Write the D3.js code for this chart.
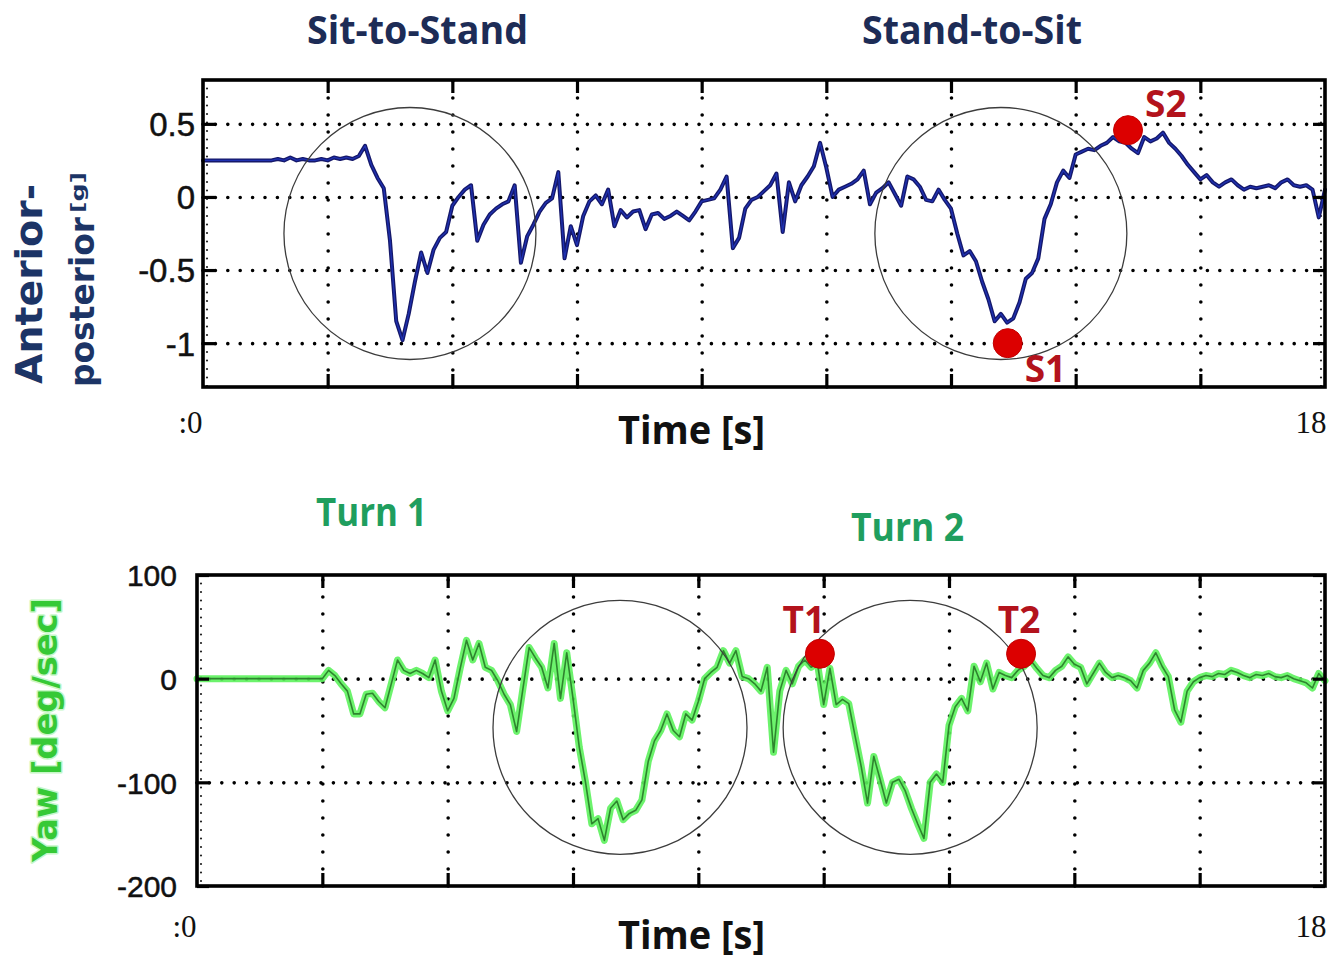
<!DOCTYPE html>
<html><head><meta charset="utf-8">
<script src="https://cdn.jsdelivr.net/npm/d3@7"></script>
<style>body{margin:0;background:#fff} svg{display:block}</style>
</head><body>
<svg id="c" width="1342" height="960"></svg>
<script>
// ---------- DATA ----------
const timeStep = 0.1; // seconds between samples
const apValues = [
  0.25,0.25,0.25,0.25,0.25,0.25,0.25,0.25,0.25,0.25,
  0.25,0.25,0.26,0.25,0.27,0.25,0.26,0.25,0.25,0.26,
  0.25,0.27,0.26,0.27,0.26,0.28,0.35,0.22,0.13,0.06,
  -0.30,-0.85,-0.98,-0.80,-0.58,-0.38,-0.52,-0.36,-0.28,-0.24,
  -0.06,0.00,0.05,0.08,-0.30,-0.19,-0.12,-0.08,-0.05,-0.03,
  0.08,-0.45,-0.27,-0.19,-0.10,-0.04,-0.01,0.17,-0.42,-0.20,
  -0.33,-0.13,-0.03,0.01,-0.05,0.05,-0.20,-0.09,-0.14,-0.10,
  -0.09,-0.22,-0.12,-0.11,-0.15,-0.13,-0.10,-0.13,-0.16,-0.10,
  -0.03,-0.02,-0.01,0.05,0.14,-0.35,-0.28,-0.08,-0.02,0.00,
  0.04,0.08,0.16,-0.24,0.10,-0.03,0.08,0.14,0.21,0.37,
  0.20,0.00,0.05,0.07,0.09,0.12,0.18,-0.05,0.03,0.06,
  0.10,0.02,-0.06,0.14,0.12,0.07,-0.02,-0.03,0.05,-0.02,
  -0.08,-0.25,-0.40,-0.37,-0.44,-0.58,-0.70,-0.85,-0.80,-0.86,
  -0.83,-0.72,-0.56,-0.52,-0.42,-0.15,-0.05,0.10,0.18,0.13,
  0.29,0.31,0.33,0.32,0.35,0.37,0.41,0.38,0.37,0.33,
  0.30,0.41,0.38,0.40,0.44,0.37,0.33,0.28,0.22,0.17,
  0.12,0.15,0.10,0.07,0.10,0.12,0.08,0.05,0.07,0.06,
  0.07,0.08,0.06,0.10,0.12,0.08,0.07,0.08,0.05,-0.14,
  0.05
];
const yawValues = [
  0,0,0,0,0,0,0,0,0,0,
  0,0,0,0,0,0,0,0,0,0,
  0,8,3,-5,-12,-34,-34,-15,-14,-22,
  -28,-5,18,8,5,8,5,1,18,-12,
  -31,-19,10,37,18,34,11,8,-2,-15,
  -25,-51,-10,30,20,11,-9,34,-19,25,
  -19,-66,-100,-140,-135,-156,-125,-118,-136,-130,
  -127,-117,-80,-60,-50,-34,-50,-56,-34,-40,
  -22,0,6,11,27,15,27,2,0,-5,
  -12,11,-71,-12,8,-5,12,18,11,15,
  -25,10,-25,-20,-24,-55,-85,-120,-75,-97,
  -120,-100,-97,-108,-125,-140,-154,-100,-92,-100,
  -45,-27,-19,-31,12,-3,15,-10,6,3,
  1,8,12,18,10,3,1,8,12,21,
  14,11,-5,5,15,6,1,3,1,-2,
  -9,8,15,25,12,2,-30,-42,-12,-3,
  1,3,2,5,4,8,6,3,1,4,
  3,5,2,1,3,0,-2,-4,-9,5,
  -2
];
const timeDomain = [0, 18];
const timeGrid = [2,4,6,8,10,12,14,16];
const timeEndTicks = [0, 18];
const timeEndLabels = [":0", "18"];
const apDomain = [-1.3, 0.8];
const apTicks = [0.5, 0, -0.5, -1];
const apTickLabels = ["0.5", "0", "-0.5", "-1"];
const yawDomain = [-200, 100];
const yawTicks = [100, 0, -100, -200];
const yawTickLabels = ["100", "0", "-100", "-200"];
const yawGridTicks = [0, -100];
const apMarkers = [{name:"S1", t:12.91, v:-1.0}, {name:"S2", t:14.84, v:0.457}];
const yawMarkers = [{name:"T1", t:9.94, v:24}, {name:"T2", t:13.15, v:24}];
const apCircles = [{t:3.32, v:-0.25}, {t:12.8, v:-0.25}];
const yawCircles = [{t:6.75, v:-47}, {t:11.38, v:-47}];
const topTitles = ["Sit-to-Stand", "Stand-to-Sit"];
const bottomTitles = ["Turn 1", "Turn 2"];
const xTitle = "Time [s]";
const apLabel = ["Anterior-", "posterior", "[g]"];
const yawLabel = "Yaw [deg/sec]";

// ---------- DRAW ----------
const svg = d3.select("#c");
svg.append("rect").attr("width",1342).attr("height",960).attr("fill","#fff");

function panel(cfg) {
  const x = d3.scaleLinear().domain(timeDomain).range([cfg.left, cfg.right]);
  const y = d3.scaleLinear().domain(cfg.domain).range([cfg.bottom, cfg.top]);
  const W = cfg.right - cfg.left, H = cfg.bottom - cfg.top;
  const g = svg.append("g");

  // vertical dotted grid
  g.append("g").attr("transform",`translate(0,${cfg.bottom})`)
    .call(d3.axisBottom(x).tickValues(timeGrid).tickSize(-H).tickFormat(""))
    .call(a => {
      a.select(".domain").remove();
      a.selectAll("line").attr("stroke","#000").attr("stroke-width",3.6)
        .attr("stroke-linecap","round").attr("stroke-dasharray","0 17");
    });
  // horizontal dotted grid
  g.append("g").attr("transform",`translate(${cfg.left},0)`)
    .call(d3.axisLeft(y).tickValues(cfg.grid).tickSize(-W).tickFormat(""))
    .call(a => {
      a.select(".domain").remove();
      a.selectAll("line").attr("stroke","#000").attr("stroke-width",3.6)
        .attr("stroke-linecap","round").attr("stroke-dasharray","0 12.4");
    });
  // faint dotted minor lines along the left/right frame
  [cfg.left + 4, cfg.right - 4].forEach(px => {
    g.append("line").attr("x1",px).attr("x2",px).attr("y1",cfg.top).attr("y2",cfg.bottom)
      .attr("stroke","#222").attr("stroke-width",2.2).attr("stroke-linecap","round")
      .attr("stroke-dasharray","0 8.5");
  });

  // trace
  const line = d3.line().x((d,i) => x(i*timeStep)).y(d => y(d)).curve(d3.curveLinear);
  cfg.styles.forEach(s => {
    g.append("path").datum(cfg.values).attr("d", line).attr("fill","none")
      .attr("stroke", s.c).attr("stroke-width", s.w).attr("stroke-opacity", s.o)
      .attr("stroke-linejoin","round").attr("stroke-linecap","round");
  });

  // annotation circles
  g.selectAll(null).data(cfg.circles).join("circle")
    .attr("cx", d => x(d.t)).attr("cy", d => y(d.v)).attr("r", cfg.circleR)
    .attr("fill","none").attr("stroke","#3c3c3c").attr("stroke-width",1.3);

  // frame
  g.append("rect").attr("x",cfg.left).attr("y",cfg.top).attr("width",W).attr("height",H)
    .attr("fill","none").attr("stroke","#000").attr("stroke-width",3.6);
  // inward major ticks
  const tickStyle = a => { a.select(".domain").remove();
    a.selectAll("line").attr("stroke","#000").attr("stroke-width",3.2); a.selectAll("text").remove(); };
  g.append("g").attr("transform",`translate(0,${cfg.top})`).call(d3.axisTop(x).tickValues(timeGrid).tickSize(-13)).call(tickStyle);
  g.append("g").attr("transform",`translate(0,${cfg.bottom})`).call(d3.axisBottom(x).tickValues(timeGrid).tickSize(-13)).call(tickStyle);
  g.append("g").attr("transform",`translate(${cfg.left},0)`).call(d3.axisLeft(y).tickValues(cfg.ticks).tickSize(-12)).call(tickStyle);
  g.append("g").attr("transform",`translate(${cfg.right},0)`).call(d3.axisRight(y).tickValues(cfg.ticks).tickSize(-12)).call(tickStyle);

  // y tick labels
  g.append("g").attr("transform",`translate(${cfg.left},0)`)
    .call(d3.axisLeft(y).tickValues(cfg.ticks).tickSize(0).tickPadding(cfg.yPad)
      .tickFormat((d,i) => cfg.tickLabels[i]))
    .call(a => { a.select(".domain").remove();
      a.selectAll("text").attr("font-family","'Liberation Sans', Arial, sans-serif")
        .attr("font-size",cfg.yFont).attr("fill","#111").attr("dy","0.36em")
        .attr("stroke","#111").attr("stroke-width",0.5); });
  // x end labels
  g.append("g").attr("transform",`translate(0,${cfg.bottom})`)
    .call(d3.axisBottom(x).tickValues(timeEndTicks).tickSize(0).tickFormat((d,i) => timeEndLabels[i]))
    .call(a => { a.select(".domain").remove();
      a.selectAll("text").attr("font-family","'Liberation Serif', 'Times New Roman', serif")
        .attr("font-size",31).attr("fill","#111").attr("text-anchor","end")
        .attr("dy",0).attr("y", cfg.xLabelDy).attr("dx", (d,i) => i === 0 ? -1 : 1); });

  // markers
  g.selectAll(null).data(cfg.markers).join("circle")
    .attr("cx", d => x(d.t)).attr("cy", d => y(d.v)).attr("r", 14.5)
    .attr("fill","#dc0000").attr("stroke","#c20000").attr("stroke-width",1);
  g.selectAll(null).data(cfg.markers).join("text")
    .attr("x", (d,i) => x(d.t) + cfg.markerLabelOff[i][0])
    .attr("y", (d,i) => y(d.v) + cfg.markerLabelOff[i][1])
    .attr("text-anchor", cfg.markerAnchor)
    .attr("font-family","'Open Sans', sans-serif").attr("font-weight",700)
    .attr("font-size",37).attr("fill","#b3131c").text(d => d.name);
  return {x, y};
}

panel({
  left:203, right:1325, top:80, bottom:387, domain:apDomain,
  grid:apTicks, ticks:apTicks, tickLabels:apTickLabels, yPad:8, yFont:33, xLabelDy:46,
  values:apValues,
  styles:[{c:"#15186a",w:4,o:1},{c:"#2238c4",w:1.3,o:0.8}],
  circles:apCircles, circleR:126,
  markers:apMarkers, markerLabelOff:[[17,39],[17,-13]], markerAnchor:"start"
});
panel({
  left:197, right:1325, top:575, bottom:886, domain:yawDomain,
  grid:yawGridTicks, ticks:yawTicks, tickLabels:yawTickLabels, yPad:20, yFont:30, xLabelDy:51,
  values:yawValues,
  styles:[{c:"#5cf25c",w:7,o:0.9},{c:"#2b7d2b",w:1.6,o:0.95}],
  circles:yawCircles, circleR:127,
  markers:yawMarkers, markerLabelOff:[[-16,-21],[-2,-21]], markerAnchor:"middle"
});

// titles
const titleFont = "'Open Sans', sans-serif";
function title(txt, x, y, len, color) {
  svg.append("text").attr("x",x).attr("y",y).attr("font-family",titleFont)
    .attr("font-weight",700).attr("font-size",40).attr("fill",color)
    .attr("textLength",len).attr("lengthAdjust","spacingAndGlyphs").text(txt);
}
title(topTitles[0], 307, 44, 221, "#1d2c56");
title(topTitles[1], 862, 44, 220, "#1d2c56");
title(bottomTitles[0], 316, 526, 111, "#1f9e5e");
title(bottomTitles[1], 851, 541, 113, "#1f9e5e");
title(xTitle, 618, 444, 147, "#111");
title(xTitle, 618, 949, 147, "#111");

// rotated y labels
function vlabel(txt, bx, startY, len, size, color, halo) {
  const t = svg.append("text").attr("transform",`translate(${bx},${startY}) rotate(-90)`)
    .attr("font-family","'DejaVu Sans', sans-serif").attr("font-weight",700)
    .attr("font-size",size).attr("fill",color)
    .attr("textLength",len).attr("lengthAdjust","spacingAndGlyphs").text(txt);
  if (halo) t.attr("stroke",halo).attr("stroke-width",3).attr("paint-order","stroke").attr("stroke-linejoin","round");
}
vlabel(apLabel[0], 42, 384, 200, 38, "#1c3466");
vlabel(apLabel[1], 94, 387, 170, 33, "#1c3466");
vlabel(apLabel[2], 84, 213, 41, 18, "#1c3466");
vlabel(yawLabel, 57, 862, 264, 34, "#36c936", "#c8f7c8");
</script>
</body></html>
